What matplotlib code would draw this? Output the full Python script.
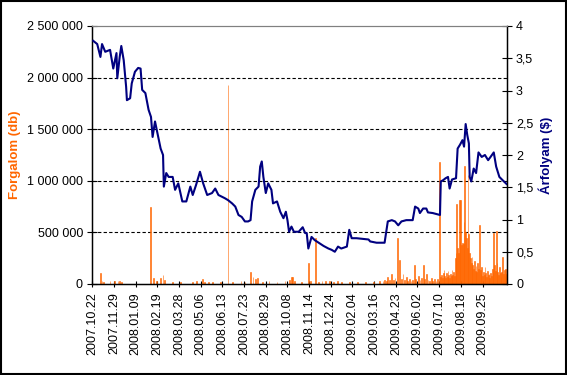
import matplotlib
matplotlib.use("Agg")
import matplotlib.pyplot as plt
from matplotlib.patches import Rectangle
from matplotlib.ticker import FuncFormatter

plt.rcParams["font.family"] = ["Liberation Sans", "DejaVu Sans"]

# Data (trading-day index -> value)

n_days = 517

date_labels = [
    "2007.10.22", "2007.11.29", "2008.01.09", "2008.02.19", "2008.03.28",
    "2008.05.06", "2008.06.13", "2008.07.23", "2008.08.29", "2008.10.08",
    "2008.11.14", "2008.12.24", "2009.02.04", "2009.03.16", "2009.04.23",
    "2009.06.02", "2009.07.10", "2009.08.18", "2009.09.25",
]
label_step = 27

price_idx = [
    1, 6, 10, 12, 16, 22, 26, 30, 31, 34, 36, 39, 42, 43, 47, 49, 53, 57, 60,
    62, 66, 70, 73, 75, 78, 81, 85, 88, 89, 92, 95, 100, 103, 107, 112, 117,
    122, 125, 129, 134, 138, 143, 149, 153, 157, 165, 169, 174, 178, 182, 186,
    190, 194, 197, 199, 203, 207, 209, 211, 213, 216, 219, 223, 225, 230, 234,
    238, 241, 243, 245, 248, 251, 257, 262, 265, 267, 269, 273, 277, 283, 288,
    294, 298, 302, 306, 310, 317, 320, 323, 329, 344, 346, 354, 364, 368, 373,
    377, 381, 385, 391, 399, 402, 406, 408, 412, 416, 418, 424, 433, 434, 437,
    440, 443, 445, 448, 453, 455, 458, 461, 463, 465, 467, 469, 470, 472, 475,
    478, 481, 485, 489, 493, 496, 500, 503, 507, 511, 516,
]
price = [
    3.77, 3.72, 3.52, 3.72, 3.60, 3.63, 3.34, 3.58, 3.19, 3.52, 3.69, 3.47,
    3.06, 2.85, 2.88, 3.11, 3.29, 3.35, 3.34, 3.01, 2.96, 2.70, 2.59, 2.28,
    2.52, 2.34, 2.10, 2.00, 1.51, 1.72, 1.66, 1.66, 1.46, 1.56, 1.28, 1.28,
    1.51, 1.38, 1.53, 1.74, 1.56, 1.38, 1.41, 1.48, 1.38, 1.33, 1.30, 1.25,
    1.20, 1.07, 1.04, 0.97, 0.97, 0.99, 1.28, 1.46, 1.51, 1.82, 1.90, 1.66,
    1.41, 1.56, 1.46, 1.25, 1.28, 1.12, 1.02, 1.12, 0.99, 0.81, 0.89, 0.81,
    0.81, 0.88, 0.79, 0.79, 0.55, 0.73, 0.68, 0.63, 0.59, 0.55, 0.53, 0.50,
    0.58, 0.55, 0.58, 0.84, 0.71, 0.71, 0.69, 0.66, 0.64, 0.64, 0.97, 0.99,
    0.97, 0.91, 0.97, 0.99, 0.99, 1.20, 1.17, 1.10, 1.17, 1.17, 1.11, 1.10,
    1.07, 1.59, 1.61, 1.64, 1.66, 1.48, 1.62, 1.64, 2.10, 2.16, 2.23, 2.13,
    2.48, 2.31, 2.18, 1.66, 1.59, 1.79, 1.72, 2.04, 1.97, 2.00, 1.92, 1.97,
    2.04, 1.82, 1.66, 1.61, 1.55,
]

vol_idx = [
    10, 12, 14, 22, 28, 32, 34, 36, 72, 76, 80, 85, 88, 90, 100, 110, 125,
    130, 137, 140, 145, 150, 160, 169, 175, 185, 190, 197, 200, 203, 206,
    212, 220, 230, 240, 246, 248, 249, 252, 260, 269, 272, 278, 282, 286,
    290, 295, 300, 305, 310, 320, 330, 340, 350, 358, 362, 364, 366, 368,
    370, 373, 375, 377, 380, 383, 385, 387, 389, 391, 393, 395, 397, 399,
    401, 403, 406, 408, 410, 412, 414, 416, 418, 420, 422, 424, 426, 428,
    430, 432, 434, 435, 436, 437, 438, 439, 440, 441, 442, 443, 444, 445,
    446, 447, 448, 449, 450, 451, 452, 453, 454, 455, 456, 457, 458, 459,
    460, 461, 462, 463, 464, 465, 466, 467, 468, 469, 470, 471, 472, 473,
    474, 475, 476, 477, 478, 479, 480, 481, 482, 483, 484, 485, 486, 487,
    488, 489, 490, 491, 492, 493, 494, 495, 496, 497, 498, 499, 500, 501,
    502, 503, 504, 505, 506, 507, 508, 509, 510, 511, 512, 513, 514, 515,
    516,
]
volume = [
    110000, 30000, 20000, 25000, 30000, 25000, 30000, 20000, 750000, 55000,
    25000, 60000, 90000, 40000, 15000, 15000, 20000, 25000, 45000, 20000,
    20000, 15000, 15000, 1930000, 20000, 25000, 20000, 113000, 65000, 45000,
    55000, 20000, 25000, 15000, 30000, 40000, 65000, 65000, 30000, 20000,
    200000, 25000, 445000, 20000, 30000, 25000, 30000, 20000, 25000, 15000,
    20000, 15000, 20000, 15000, 25000, 30000, 40000, 25000, 70000, 35000,
    100000, 40000, 60000, 443000, 230000, 50000, 100000, 40000, 70000, 30000,
    50000, 25000, 40000, 180000, 50000, 80000, 40000, 60000, 180000, 50000,
    100000, 40000, 30000, 60000, 30000, 45000, 30000, 50000, 1180000, 70000,
    90000, 55000, 104000, 135000, 80000, 60000, 110000, 70000, 130000, 90000,
    60000, 100000, 75000, 140000, 90000, 120000, 80000, 250000, 300000,
    780000, 350000, 300000, 810000, 420000, 810000, 380000, 400000, 390000,
    600000, 1140000, 500000, 450000, 350000, 1060000, 480000, 300000, 250000,
    200000, 260000, 180000, 150000, 220000, 130000, 170000, 120000, 200000,
    150000, 570000, 140000, 100000, 160000, 80000, 120000, 90000, 160000,
    110000, 70000, 130000, 90000, 100000, 60000, 110000, 80000, 150000,
    120000, 490000, 180000, 130000, 510000, 200000, 120000, 90000, 160000,
    110000, 70000, 120000, 260000, 100000, 140000, 80000, 150000, 100000,
]

orange = "#FF6600"
navy = "#000080"

fig = plt.figure(figsize=(5.67, 3.75), dpi=100)
ax = fig.add_axes([92 / 567, 1 - 284 / 375, 415 / 567, 258 / 375])
ax2 = ax.twinx()

# Volume bars (left axis)
ax.bar(vol_idx, volume, width=1.0, color=orange, edgecolor=orange,
       linewidth=0.4, zorder=2)
ax.set_ylim(0, 2500000)
ax.set_xlim(-0.5, n_days - 0.5)
ax.set_yticks(range(0, 2500001, 500000))
ax.yaxis.set_major_formatter(
    FuncFormatter(lambda v, p: f"{int(v):,}".replace(",", " ")))
for g in range(500000, 2500000, 500000):
    ax.axhline(g, color="black", linestyle=(0, (3, 2)), linewidth=0.8, zorder=1)

# Price line (right axis)
ax2.plot(price_idx, price, color=navy, linewidth=1.5, zorder=3)
ax2.set_ylim(0, 4)
ax2.set_yticks([0, 0.5, 1, 1.5, 2, 2.5, 3, 3.5, 4])
ax2.yaxis.set_major_formatter(
    FuncFormatter(lambda v, p: f"{v:g}".replace(".", ",")))

ax.set_xticks([i * label_step for i in range(len(date_labels))])
ax.set_xticklabels(date_labels, rotation=90, fontsize=9)

for a in (ax, ax2):
    a.tick_params(axis="y", direction="inout", length=7, width=0.8,
                  labelsize=9, pad=3)
    a.spines["top"].set_color("#808080")
ax.tick_params(axis="x", direction="inout", length=4, width=0.8, pad=4)
ax.spines["left"].set_linewidth(1.0)
ax2.spines["right"].set_linewidth(1.0)
ax.spines["bottom"].set_linewidth(1.0)

ax.set_ylabel("Forgalom (db)", color=orange, fontsize=9.5, fontweight="bold",
              labelpad=4)
ax2.set_ylabel("Árfolyam ($)", color=navy, fontsize=9.5, fontweight="bold",
               labelpad=4)

# Chart border
fig.patches.append(Rectangle((0.001, 0.002), 0.997, 0.996, transform=fig.transFigure,
                             fill=False, edgecolor="black", linewidth=1.5))

fig.savefig("out.png", dpi=100)
